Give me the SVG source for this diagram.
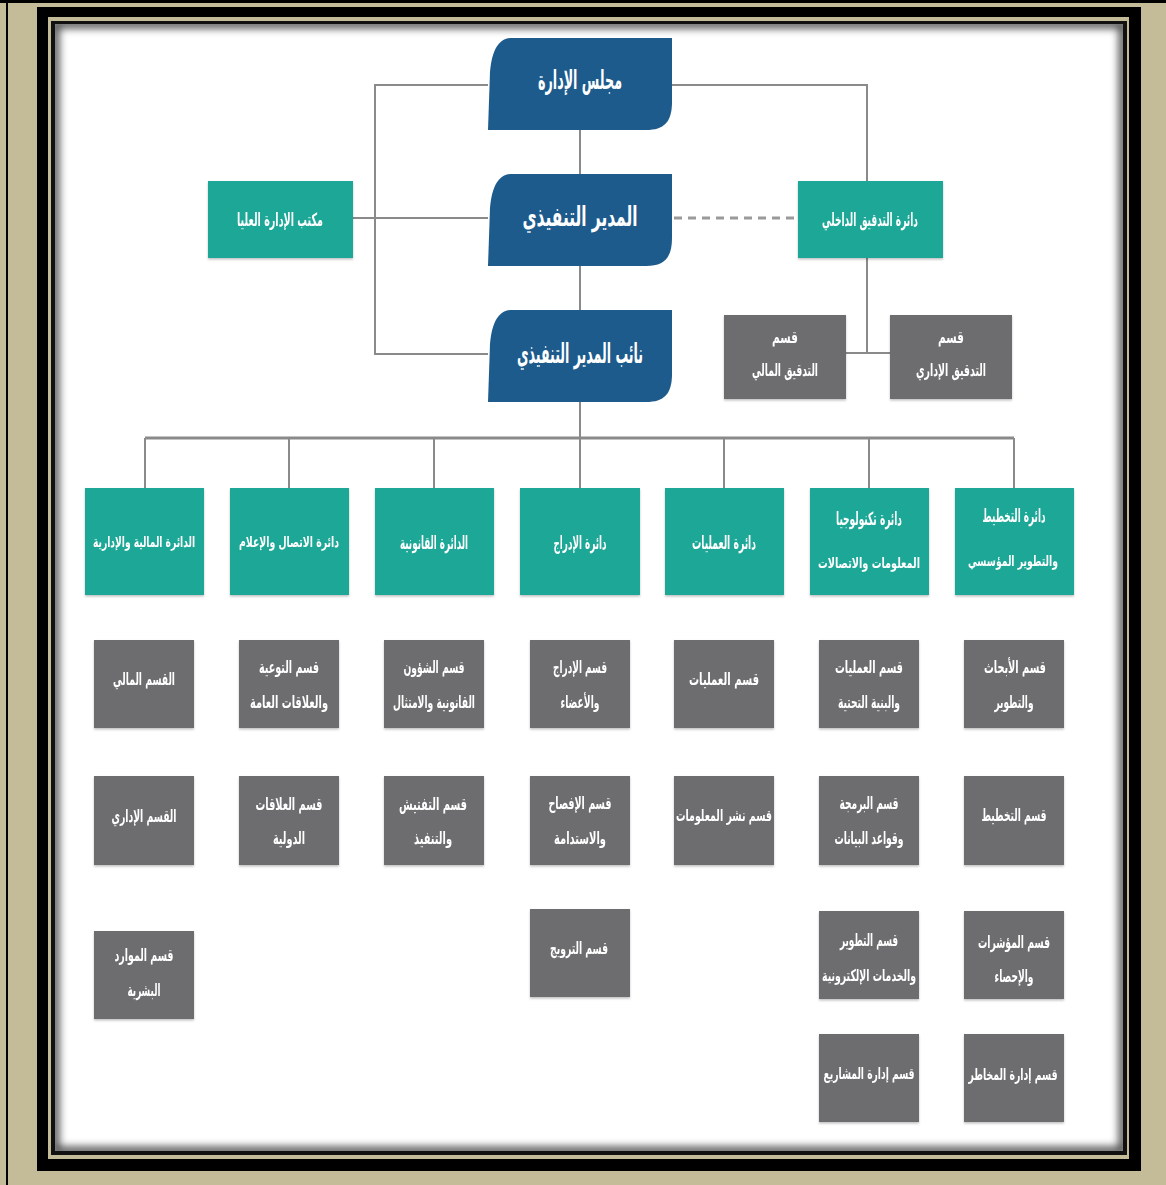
<svg xmlns="http://www.w3.org/2000/svg" width="1166" height="1185" viewBox="0 0 1166 1185">
  <style>
    .t { font-family: "DejaVu Sans Condensed", "DejaVu Sans", sans-serif; font-weight: bold; fill: #ffffff; text-anchor: middle; dominant-baseline: central; }
    .lead { fill: #1d5b8c; }
    .dept { fill: #1ca797; }
    .sec { fill: #6d6d6f; }
    .ln { fill: none; stroke: #8a8a8a; stroke-width: 2; }
    .bus { fill: none; stroke: #8a8a8a; stroke-width: 3; }
    .dash { fill: none; stroke: #9a9a9a; stroke-width: 3; stroke-dasharray: 8 6; }
  </style>
  <defs>
    <!-- leaf-shaped leadership block: rounded top-left and bottom-right -->
    <path id="leaf" d="M 24,0 H 184 V 64 C 184,84 176,92 158,92 H 0 L 2,34 C 4,10 12,0 24,0 Z"/>
    <filter id="soft" x="-10%" y="-10%" width="120%" height="130%">
      <feDropShadow dx="0" dy="1.5" stdDeviation="1" flood-color="#000" flood-opacity="0.25"/>
    </filter>
    <filter id="blur6" x="-5%" y="-5%" width="110%" height="110%">
      <feGaussianBlur stdDeviation="4"/>
    </filter>
    <clipPath id="panelClip">
      <rect x="55" y="24" width="1068" height="1127"/>
    </clipPath>
  </defs>

  <!-- frame -->
  <rect x="0" y="0" width="1166" height="1185" fill="#c4bc98"/>
  <rect x="0" y="0" width="1166" height="3" fill="#000"/>
  <rect x="6" y="0" width="2" height="1185" fill="#000"/>
  <rect x="37" y="7" width="1104" height="1164" fill="#000"/>
  <rect x="48" y="17" width="1081" height="1142" fill="#c4bc98"/>
  <rect x="51" y="21" width="1076" height="1134" fill="#111"/>
  <rect x="55" y="24" width="1068" height="1127" fill="#ffffff"/>
  <g clip-path="url(#panelClip)">
    <rect x="55" y="24" width="1068" height="1127" fill="none" stroke="#000" stroke-width="8" opacity="0.75" filter="url(#blur6)"/>
  </g>

  <!-- connectors -->
  <g id="connectors">
    <path class="ln" d="M 580,130 V 174 M 580,266 V 310 M 580,402 V 438"/>
    <path class="ln" d="M 488,85 H 375 V 354 H 488"/>
    <path class="ln" d="M 353,218 H 488"/>
    <path class="ln" d="M 672,85 H 867 V 181"/>
    <path class="ln" d="M 867,258 V 353 M 846,353 H 890"/>
    <path class="dash" d="M 674,218 H 798"/>
    <path class="bus" d="M 145,438 H 1014"/>
    <path class="ln" d="M 145,438 V 488 M 289,438 V 488 M 434,438 V 488 M 580,438 V 488 M 724,438 V 488 M 869,438 V 488 M 1014,438 V 488"/>
  </g>

  <!-- leadership -->
  <g id="board">
    <use href="#leaf" x="488" y="38" class="lead"/>
    <text class="t" x="580" y="80" font-size="26" textLength="84" lengthAdjust="spacingAndGlyphs">مجلس الإدارة</text>
  </g>
  <g id="ceo">
    <use href="#leaf" x="488" y="174" class="lead"/>
    <text class="t" x="580" y="216" font-size="27" textLength="115" lengthAdjust="spacingAndGlyphs">المدير التنفيذي</text>
  </g>
  <g id="deputy-ceo">
    <use href="#leaf" x="488" y="310" class="lead"/>
    <text class="t" x="580" y="353" font-size="27" textLength="126" lengthAdjust="spacingAndGlyphs">نائب المدير التنفيذي</text>
  </g>

  <!-- offices beside the executive -->
  <g id="senior-office" filter="url(#soft)">
    <rect class="dept" x="208" y="181" width="145" height="77"/>
    <text class="t" x="280" y="219" font-size="18" textLength="86" lengthAdjust="spacingAndGlyphs">مكتب الإدارة العليا</text>
  </g>
  <g id="internal-audit" filter="url(#soft)">
    <rect class="dept" x="798" y="181" width="145" height="77"/>
    <text class="t" x="870" y="219" font-size="18" textLength="96" lengthAdjust="spacingAndGlyphs">دائرة التدقيق الداخلي</text>
  </g>
  <g id="financial-audit" filter="url(#soft)">
    <rect class="sec" x="724" y="315" width="122" height="84"/>
    <text class="t" x="785" y="337" font-size="17" textLength="26" lengthAdjust="spacingAndGlyphs">قسم</text>
    <text class="t" x="785" y="370" font-size="17" textLength="66" lengthAdjust="spacingAndGlyphs">التدقيق المالي</text>
  </g>
  <g id="admin-audit" filter="url(#soft)">
    <rect class="sec" x="890" y="315" width="122" height="84"/>
    <text class="t" x="951" y="337" font-size="17" textLength="26" lengthAdjust="spacingAndGlyphs">قسم</text>
    <text class="t" x="951" y="370" font-size="17" textLength="70" lengthAdjust="spacingAndGlyphs">التدقيق الإداري</text>
  </g>

  <!-- departments -->
  <g id="dept-finance-admin" filter="url(#soft)">
    <rect class="dept" x="85" y="488" width="119" height="107"/>
    <text class="t" x="144" y="542" font-size="15" textLength="102" lengthAdjust="spacingAndGlyphs">الدائرة المالية والإدارية</text>
  </g>
  <g id="dept-communication" filter="url(#soft)">
    <rect class="dept" x="230" y="488" width="119" height="107"/>
    <text class="t" x="289" y="542" font-size="15" textLength="100" lengthAdjust="spacingAndGlyphs">دائرة الاتصال والإعلام</text>
  </g>
  <g id="dept-legal" filter="url(#soft)">
    <rect class="dept" x="375" y="488" width="119" height="107"/>
    <text class="t" x="434" y="542" font-size="18" textLength="68" lengthAdjust="spacingAndGlyphs">الدائرة القانونية</text>
  </g>
  <g id="dept-listing" filter="url(#soft)">
    <rect class="dept" x="520" y="488" width="120" height="107"/>
    <text class="t" x="580" y="542" font-size="18" textLength="53" lengthAdjust="spacingAndGlyphs">دائرة الإدراج</text>
  </g>
  <g id="dept-operations" filter="url(#soft)">
    <rect class="dept" x="665" y="488" width="119" height="107"/>
    <text class="t" x="724" y="542" font-size="18" textLength="64" lengthAdjust="spacingAndGlyphs">دائرة العمليات</text>
  </g>
  <g id="dept-ict" filter="url(#soft)">
    <rect class="dept" x="810" y="488" width="119" height="107"/>
    <text class="t" x="869" y="518" font-size="18" textLength="66" lengthAdjust="spacingAndGlyphs">دائرة تكنولوجيا</text>
    <text class="t" x="869" y="563" font-size="15" textLength="102" lengthAdjust="spacingAndGlyphs">المعلومات والاتصالات</text>
  </g>
  <g id="dept-planning" filter="url(#soft)">
    <rect class="dept" x="955" y="488" width="119" height="107"/>
    <text class="t" x="1014" y="515" font-size="18" textLength="63" lengthAdjust="spacingAndGlyphs">دائرة التخطيط</text>
    <text class="t" x="1013" y="561" font-size="15" textLength="90" lengthAdjust="spacingAndGlyphs">والتطوير المؤسسي</text>
  </g>

  <!-- sections: finance and administration -->
  <g id="sec-finance" filter="url(#soft)">
    <rect class="sec" x="94" y="640" width="100" height="88"/>
    <text class="t" x="144" y="679" font-size="17" textLength="62" lengthAdjust="spacingAndGlyphs">القسم المالي</text>
  </g>
  <g id="sec-admin" filter="url(#soft)">
    <rect class="sec" x="94" y="776" width="100" height="89"/>
    <text class="t" x="144" y="816" font-size="17" textLength="65" lengthAdjust="spacingAndGlyphs">القسم الإداري</text>
  </g>
  <g id="sec-hr" filter="url(#soft)">
    <rect class="sec" x="94" y="931" width="100" height="88"/>
    <text class="t" x="144" y="955" font-size="17" textLength="59" lengthAdjust="spacingAndGlyphs">قسم الموارد</text>
    <text class="t" x="144" y="990" font-size="17" textLength="33" lengthAdjust="spacingAndGlyphs">البشرية</text>
  </g>

  <!-- sections: communication -->
  <g id="sec-awareness" filter="url(#soft)">
    <rect class="sec" x="239" y="640" width="100" height="88"/>
    <text class="t" x="289" y="667" font-size="17" textLength="60" lengthAdjust="spacingAndGlyphs">قسم التوعية</text>
    <text class="t" x="289" y="702" font-size="17" textLength="78" lengthAdjust="spacingAndGlyphs">والعلاقات العامة</text>
  </g>
  <g id="sec-intl" filter="url(#soft)">
    <rect class="sec" x="239" y="776" width="100" height="89"/>
    <text class="t" x="289" y="804" font-size="17" textLength="67" lengthAdjust="spacingAndGlyphs">قسم العلاقات</text>
    <text class="t" x="289" y="838" font-size="17" textLength="32" lengthAdjust="spacingAndGlyphs">الدولية</text>
  </g>

  <!-- sections: legal -->
  <g id="sec-legal-affairs" filter="url(#soft)">
    <rect class="sec" x="384" y="640" width="100" height="88"/>
    <text class="t" x="434" y="667" font-size="17" textLength="61" lengthAdjust="spacingAndGlyphs">قسم الشؤون</text>
    <text class="t" x="434" y="702" font-size="17" textLength="82" lengthAdjust="spacingAndGlyphs">القانونية والامتثال</text>
  </g>
  <g id="sec-inspection" filter="url(#soft)">
    <rect class="sec" x="384" y="776" width="100" height="89"/>
    <text class="t" x="433" y="804" font-size="17" textLength="68" lengthAdjust="spacingAndGlyphs">قسم التفتيش</text>
    <text class="t" x="433" y="838" font-size="17" textLength="38" lengthAdjust="spacingAndGlyphs">والتنفيذ</text>
  </g>

  <!-- sections: listing -->
  <g id="sec-listing" filter="url(#soft)">
    <rect class="sec" x="530" y="640" width="100" height="88"/>
    <text class="t" x="580" y="667" font-size="17" textLength="54" lengthAdjust="spacingAndGlyphs">قسم الإدراج</text>
    <text class="t" x="580" y="702" font-size="17" textLength="39" lengthAdjust="spacingAndGlyphs">والأعضاء</text>
  </g>
  <g id="sec-disclosure" filter="url(#soft)">
    <rect class="sec" x="530" y="776" width="100" height="89"/>
    <text class="t" x="580" y="803" font-size="17" textLength="63" lengthAdjust="spacingAndGlyphs">قسم الإفصاح</text>
    <text class="t" x="580" y="838" font-size="17" textLength="52" lengthAdjust="spacingAndGlyphs">والاستدامة</text>
  </g>
  <g id="sec-promotion" filter="url(#soft)">
    <rect class="sec" x="530" y="909" width="100" height="88"/>
    <text class="t" x="579" y="948" font-size="17" textLength="58" lengthAdjust="spacingAndGlyphs">قسم الترويج</text>
  </g>

  <!-- sections: operations -->
  <g id="sec-operations" filter="url(#soft)">
    <rect class="sec" x="674" y="640" width="100" height="88"/>
    <text class="t" x="724" y="679" font-size="17" textLength="70" lengthAdjust="spacingAndGlyphs">قسم  العمليات</text>
  </g>
  <g id="sec-dissemination" filter="url(#soft)">
    <rect class="sec" x="674" y="776" width="100" height="89"/>
    <text class="t" x="724" y="815" font-size="16" textLength="96" lengthAdjust="spacingAndGlyphs">قسم نشر المعلومات</text>
  </g>

  <!-- sections: ICT -->
  <g id="sec-infrastructure" filter="url(#soft)">
    <rect class="sec" x="819" y="640" width="100" height="88"/>
    <text class="t" x="869" y="667" font-size="17" textLength="68" lengthAdjust="spacingAndGlyphs">قسم  العمليات</text>
    <text class="t" x="869" y="702" font-size="17" textLength="62" lengthAdjust="spacingAndGlyphs">والبنية التحتية</text>
  </g>
  <g id="sec-programming" filter="url(#soft)">
    <rect class="sec" x="819" y="776" width="100" height="89"/>
    <text class="t" x="869" y="803" font-size="17" textLength="59" lengthAdjust="spacingAndGlyphs">قسم البرمجة</text>
    <text class="t" x="869" y="838" font-size="17" textLength="69" lengthAdjust="spacingAndGlyphs">وقواعد البيانات</text>
  </g>
  <g id="sec-eservices" filter="url(#soft)">
    <rect class="sec" x="819" y="911" width="100" height="88"/>
    <text class="t" x="869" y="940" font-size="17" textLength="58" lengthAdjust="spacingAndGlyphs">قسم التطوير</text>
    <text class="t" x="869" y="975" font-size="16" textLength="94" lengthAdjust="spacingAndGlyphs">والخدمات الإلكترونية</text>
  </g>
  <g id="sec-projects" filter="url(#soft)">
    <rect class="sec" x="819" y="1034" width="100" height="88"/>
    <text class="t" x="869" y="1073" font-size="16" textLength="91" lengthAdjust="spacingAndGlyphs">قسم إدارة المشاريع</text>
  </g>

  <!-- sections: planning -->
  <g id="sec-research" filter="url(#soft)">
    <rect class="sec" x="964" y="640" width="100" height="88"/>
    <text class="t" x="1015" y="667" font-size="17" textLength="62" lengthAdjust="spacingAndGlyphs">قسم الأبحاث</text>
    <text class="t" x="1014" y="702" font-size="17" textLength="39" lengthAdjust="spacingAndGlyphs">والتطوير</text>
  </g>
  <g id="sec-planning" filter="url(#soft)">
    <rect class="sec" x="964" y="776" width="100" height="89"/>
    <text class="t" x="1014" y="815" font-size="17" textLength="65" lengthAdjust="spacingAndGlyphs">قسم التخطيط</text>
  </g>
  <g id="sec-indicators" filter="url(#soft)">
    <rect class="sec" x="964" y="911" width="100" height="88"/>
    <text class="t" x="1014" y="942" font-size="17" textLength="72" lengthAdjust="spacingAndGlyphs">قسم المؤشرات</text>
    <text class="t" x="1014" y="976" font-size="17" textLength="39" lengthAdjust="spacingAndGlyphs">والإحصاء</text>
  </g>
  <g id="sec-risk" filter="url(#soft)">
    <rect class="sec" x="964" y="1034" width="100" height="88"/>
    <text class="t" x="1013" y="1074" font-size="16" textLength="89" lengthAdjust="spacingAndGlyphs">قسم إدارة المخاطر</text>
  </g>
</svg>
